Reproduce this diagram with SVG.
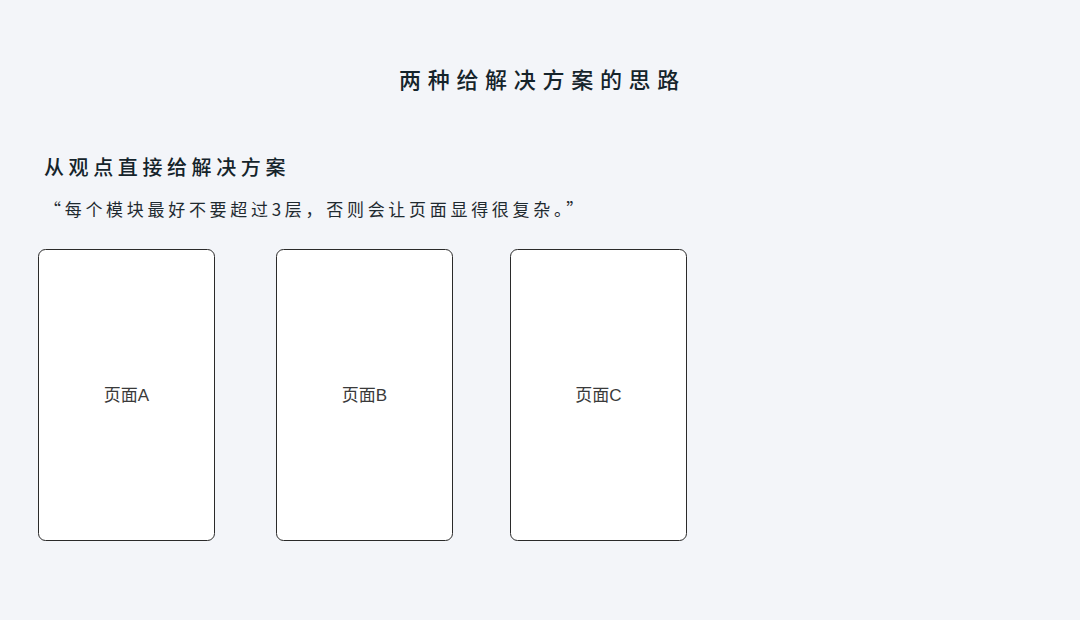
<svg xmlns="http://www.w3.org/2000/svg" width="1080" height="620" viewBox="0 0 1080 620">
<style>
.bg{fill:#f3f5f9}
.title{font-family:"Noto Sans CJK SC","Noto Sans",sans-serif;font-size:22px;font-weight:500;fill:#15242b;letter-spacing:6.7px}
.sub{font-family:"Noto Sans CJK SC","Noto Sans",sans-serif;font-size:20px;font-weight:500;fill:#15242b;letter-spacing:4.6px}
.quote{font-family:"Noto Sans CJK SC","Noto Sans",sans-serif;font-size:17px;fill:#1f2a30;letter-spacing:3.7px}
.page{fill:#ffffff;stroke:#2a2a2a;stroke-width:1}
.lbl{font-family:"Liberation Sans","Noto Sans CJK SC",sans-serif;font-size:17px;fill:#3a3a3a;text-anchor:middle}
</style>
<rect class="bg" x="0" y="0" width="1080" height="620"/>
<text class="title" x="399" y="88">两种给解决方案的思路</text>
<text class="sub" x="44" y="175">从观点直接给解决方案</text>
<text class="quote" x="44" y="216">“每个模块最好不要超过3层，否则会让页面显得很复杂。”</text>
<g id="pageA">
<rect class="page" x="38.5" y="249.5" width="176" height="291" rx="7"/>
<text class="lbl" x="126.5" y="401">页面A</text>
</g>
<g id="pageB">
<rect class="page" x="276.5" y="249.5" width="176" height="291" rx="7"/>
<text class="lbl" x="364.5" y="401">页面B</text>
</g>
<g id="pageC">
<rect class="page" x="510.5" y="249.5" width="176" height="291" rx="7"/>
<text class="lbl" x="598.5" y="401">页面C</text>
</g>
<g id="connectors"></g>
</svg>
